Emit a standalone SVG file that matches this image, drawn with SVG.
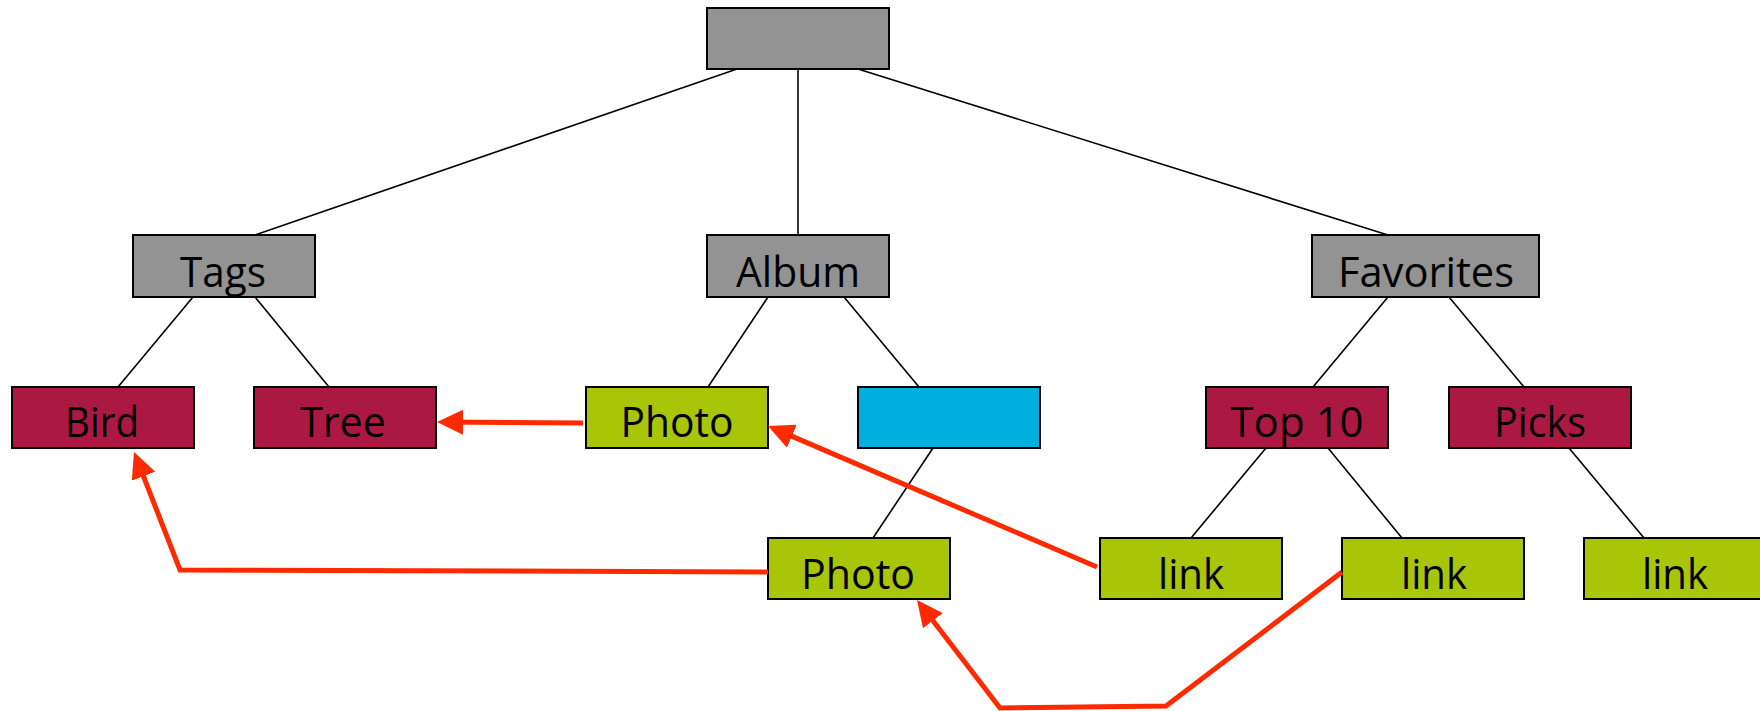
<svg xmlns="http://www.w3.org/2000/svg" width="1760" height="711" viewBox="0 0 1760 711">
  <style>
    .box { stroke: #000; stroke-width: 2; }
    .gray { fill: #939393; }
    .tag { fill: #AB1942; }
    .item { fill: #A8C508; }
    .folder { fill: #00AEDF; }
    .lbl { font-family: "Open Sans", "Liberation Sans", sans-serif; font-size: 42px; fill: #000; text-anchor: middle; }
    .edge { stroke: #000; stroke-width: 1.6; fill: none; }
    .ref { stroke: #FF2A00; stroke-width: 5; fill: none; stroke-linejoin: miter; }
  </style>
  <defs>
    <marker id="redHead" markerUnits="userSpaceOnUse" markerWidth="26" markerHeight="25" refX="20" refY="12.5" orient="auto">
      <path d="M0,0 L26,12.5 L0,25 Z" fill="#FF2A00"/>
    </marker>
  </defs>

  <rect width="1760" height="711" fill="#fff"/>

  <!-- hierarchy edges -->
  <g id="tree-edges" class="edge">
    <line x1="737" y1="69" x2="255" y2="235"/>
    <line x1="798" y1="69" x2="798" y2="235"/>
    <line x1="858" y1="69" x2="1388" y2="235"/>
    <line x1="193" y1="297" x2="118" y2="387"/>
    <line x1="255" y1="297" x2="329" y2="387"/>
    <line x1="768" y1="297" x2="708" y2="387"/>
    <line x1="844" y1="297" x2="919" y2="387"/>
    <line x1="933" y1="448" x2="873" y2="538"/>
    <line x1="1388" y1="297" x2="1313" y2="387"/>
    <line x1="1449" y1="297" x2="1524" y2="387"/>
    <line x1="1266" y1="448" x2="1191" y2="538"/>
    <line x1="1328" y1="448" x2="1402" y2="538"/>
    <line x1="1569" y1="448" x2="1644" y2="538"/>
  </g>

  <!-- nodes -->
  <g id="root"><rect class="box gray" x="707" y="8" width="182" height="61"/></g>

  <g id="tags"><rect class="box gray" x="133" y="235" width="182" height="62"/>
    <text class="lbl" x="223" y="287" textLength="86" lengthAdjust="spacingAndGlyphs">Tags</text></g>
  <g id="album"><rect class="box gray" x="707" y="235" width="182" height="62"/>
    <text class="lbl" x="798" y="287" textLength="124" lengthAdjust="spacingAndGlyphs">Album</text></g>
  <g id="favorites"><rect class="box gray" x="1312" y="235" width="227" height="62"/>
    <text class="lbl" x="1426" y="287" textLength="176" lengthAdjust="spacingAndGlyphs">Favorites</text></g>

  <g id="bird"><rect class="box tag" x="12" y="387" width="182" height="61"/>
    <text class="lbl" x="102" y="437" textLength="74" lengthAdjust="spacingAndGlyphs">Bird</text></g>
  <g id="tree"><rect class="box tag" x="254" y="387" width="182" height="61"/>
    <text class="lbl" x="343" y="437" textLength="86" lengthAdjust="spacingAndGlyphs">Tree</text></g>
  <g id="photo-a"><rect class="box item" x="586" y="387" width="182" height="61"/>
    <text class="lbl" x="677" y="437" textLength="113" lengthAdjust="spacingAndGlyphs">Photo</text></g>
  <g id="subalbum"><rect class="box folder" x="858" y="387" width="182" height="61"/></g>
  <g id="top10"><rect class="box tag" x="1206" y="387" width="182" height="61"/>
    <text class="lbl" x="1297" y="437" textLength="133" lengthAdjust="spacingAndGlyphs">Top 10</text></g>
  <g id="picks"><rect class="box tag" x="1449" y="387" width="182" height="61"/>
    <text class="lbl" x="1540" y="437" textLength="92" lengthAdjust="spacingAndGlyphs">Picks</text></g>

  <g id="photo-b"><rect class="box item" x="768" y="538" width="182" height="61"/>
    <text class="lbl" x="858" y="589" textLength="114" lengthAdjust="spacingAndGlyphs">Photo</text></g>
  <g id="link-1"><rect class="box item" x="1100" y="538" width="182" height="61"/>
    <text class="lbl" x="1191" y="589" textLength="66" lengthAdjust="spacingAndGlyphs">link</text></g>
  <g id="link-2"><rect class="box item" x="1342" y="538" width="182" height="61"/>
    <text class="lbl" x="1434" y="589" textLength="66" lengthAdjust="spacingAndGlyphs">link</text></g>
  <g id="link-3"><rect class="box item" x="1584" y="538" width="182" height="61"/>
    <text class="lbl" x="1675" y="589" textLength="66" lengthAdjust="spacingAndGlyphs">link</text></g>

  <!-- reference arrows -->
  <g id="ref-edges" class="ref" marker-end="url(#redHead)">
    <path d="M583,423 L443,422"/>
    <path d="M1097,567 L773.5,428.4"/>
    <path d="M768,572 L180,570 L136.2,457.6"/>
    <path d="M1342,572 L1166,706 L1000,708 L920.7,604.8"/>
  </g>
</svg>
